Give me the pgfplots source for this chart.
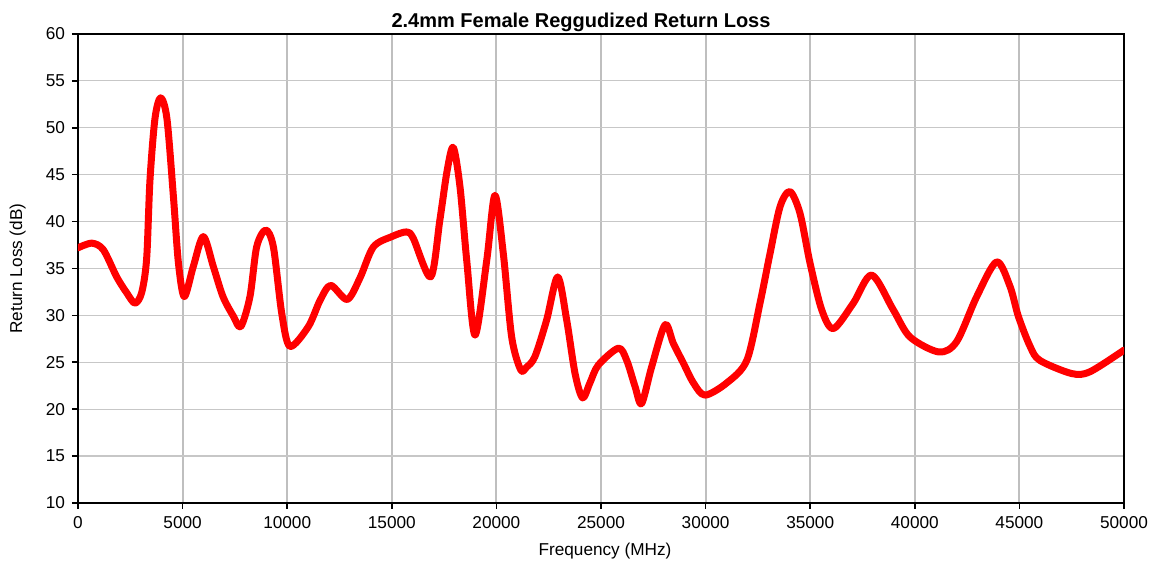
\documentclass[border=0pt]{standalone}
\usepackage{fontspec}
\setmainfont{Liberation Sans}
\usepackage{pgfplots}
\pgfplotsset{compat=1.18}
\begin{document}
\begin{tikzpicture}
\useasboundingbox (-39pt,-31pt) rectangle (538.5pt,251.5pt);
\begin{axis}[
  at={(0,0)}, anchor=south west,
  scale only axis, width=523pt, height=234.5pt,
  xmin=0, xmax=50000, ymin=10, ymax=60,
  xtick={0,5000,...,50000}, ytick={10,15,...,60},
  /pgf/number format/1000 sep={},
  /pgf/number format/assume math mode=true,
  scaled x ticks=false,
  tick label style={font=\fontsize{8.6}{10}\selectfont},
  tick pos=left,
  tick align=outside, major tick length=3pt,
  tick style={black, line width=0.8pt},
  axis line style={black, line width=1pt},
  xmajorgrids, ymajorgrids,
  x grid style={color=black!25, line width=1pt},
  y grid style={color=black!22, line width=0.6pt},
  title={\bfseries 2.4mm Female Reggudized Return Loss},
  title style={font=\fontsize{10}{12}\selectfont, at={(axis description cs:0.5,1.0149)}, anchor=base, yshift=-6pt, xshift=-10pt},
  xlabel={Frequency (MHz)},
  xlabel style={font=\fontsize{8.6}{10}\selectfont, at={(axis description cs:0.5,-0.113)}, anchor=base, xshift=2pt},
  ylabel={Return Loss (dB)},
  ylabel style={font=\fontsize{8.6}{10}\selectfont, at={(axis description cs:-0.0535,0.5)}, anchor=base},
]
\addplot[red, line width=3.5pt, smooth, line join=round, line cap=round] coordinates {
(0,37.2) (660,37.7) (1210,37.0) (1850,34.1) (2330,32.4) (2720,31.3) (3040,32.4)
(3280,36.0) (3440,44.4) (3680,51.0) (3950,53.2) (4250,51.0) (4560,42.7) (4800,35.6)
(5080,32.0) (5510,35.2) (5990,38.4) (6470,35.2) (6930,32.0) (7430,29.9) (7780,28.8)
(8220,32.0) (8540,37.3) (8970,39.1) (9340,37.3) (9740,30.2) (10130,26.7) (11010,28.8)
(11570,31.6) (12080,33.2) (12870,31.7) (13480,34.0) (14120,37.3) (15000,38.4)
(15710,38.9) (16030,38.2) (16860,34.1) (17300,40.2) (17650,45.5) (17940,47.9)
(18260,43.7) (18580,35.9) (18980,27.9) (19540,35.9) (19930,42.8) (20330,36.6)
(20730,27.7) (21160,24.2) (21450,24.5) (21840,25.6) (22400,29.5) (22930,34.1)
(23360,29.5) (23760,23.8) (24120,21.2) (24470,22.8) (24870,24.7) (25830,26.5)
(26230,25.2) (26630,22.4) (26940,20.6) (27420,24.5) (28060,29.0) (28460,27.0)
(28940,24.9) (29420,22.8) (29970,21.5) (31010,22.8) (31970,25.2) (32600,31.3)
(33080,36.6) (33560,41.6) (34030,43.2) (34510,40.9) (34990,35.6) (35550,30.6)
(36110,28.6) (37060,31.3) (37940,34.3) (38970,30.6) (39770,27.7) (41150,26.1)
(42000,27.2) (42960,32.0) (43910,35.7) (44550,33.1) (44950,29.9) (45510,26.7)
(45980,25.2) (47500,23.8) (48380,24.0) (50000,26.3)
};
\end{axis}
\end{tikzpicture}
\end{document}
